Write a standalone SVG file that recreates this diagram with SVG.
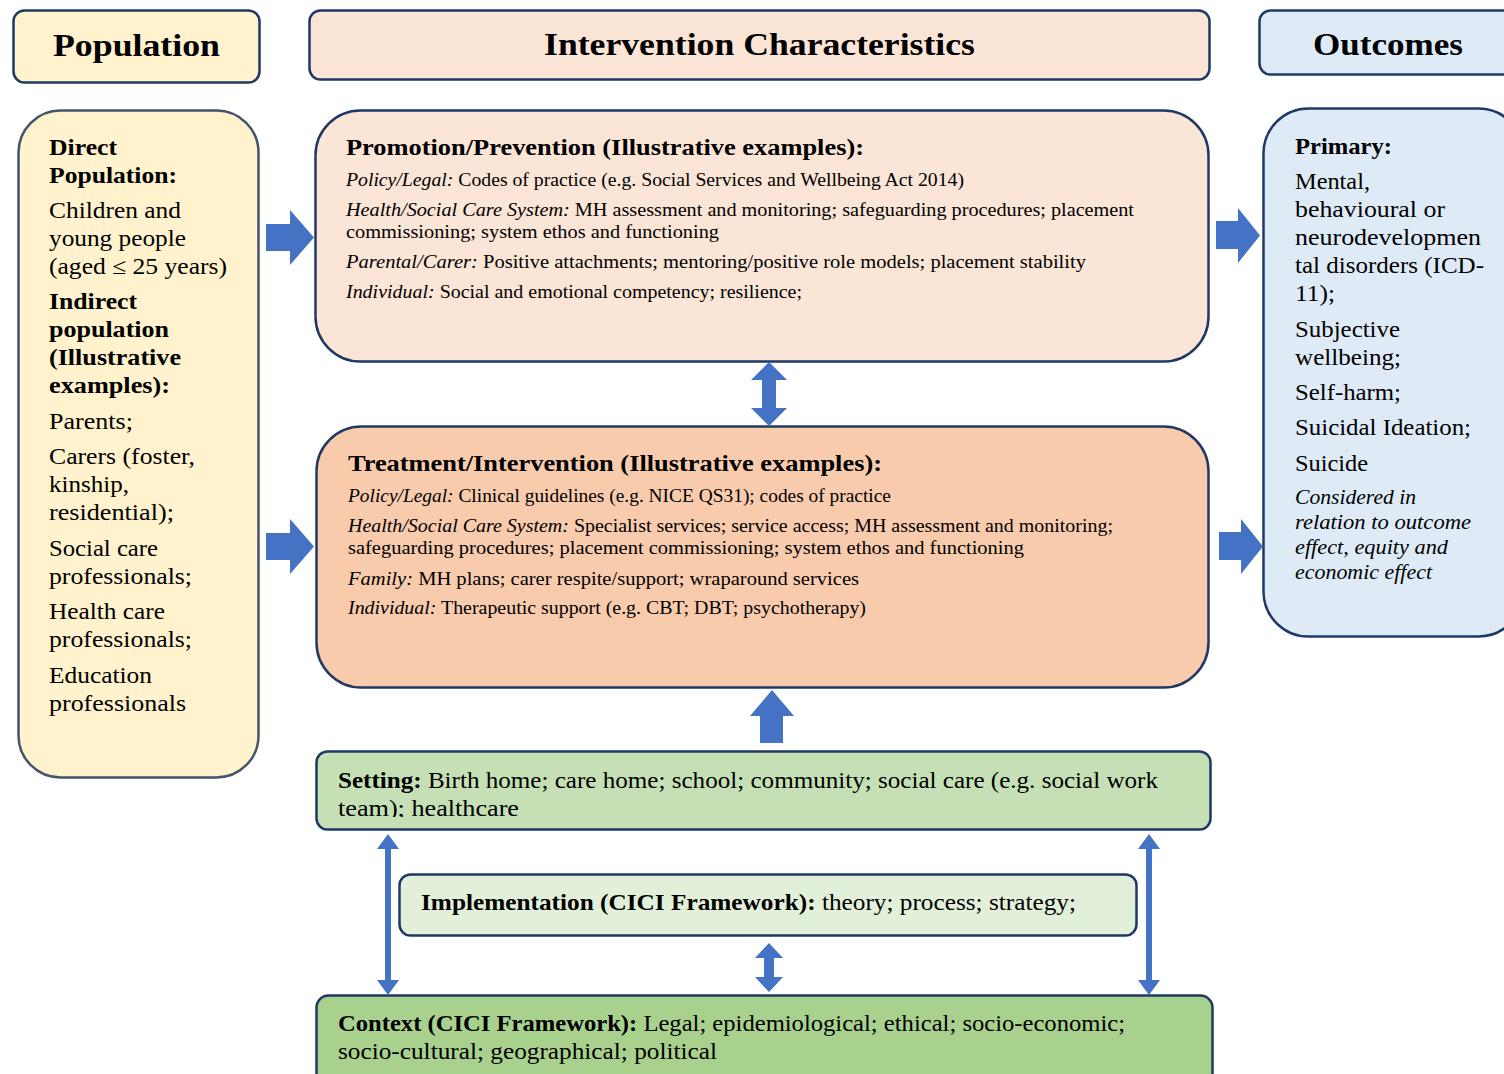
<svg xmlns="http://www.w3.org/2000/svg" width="1504" height="1074" viewBox="0 0 1504 1074">
<defs>
<style>
text{font-family:"Liberation Serif","DejaVu Serif",serif;fill:#000;}
.h{font-size:31px;font-weight:bold;text-anchor:middle;}
.p{font-size:22.5px;}
.b{font-weight:bold;}
.i{font-style:italic;}
.s{font-size:18.5px;}
.st{font-size:22.5px;}
.box{stroke:#1F3864;stroke-width:2.5;}
.arr{fill:#4472C4;}
</style>
<clipPath id="setclip"><rect x="316" y="751" width="896" height="66"/></clipPath>
</defs>

<g id="hdr-population">
<rect class="box" x="13.5" y="10.5" width="246" height="72" rx="11" fill="#FFF2CC"/>
<text class="h" x="136.5" y="56" textLength="167" lengthAdjust="spacingAndGlyphs">Population</text>
</g>
<g id="hdr-intervention">
<rect class="box" x="309.5" y="10.5" width="900" height="69" rx="11" fill="#FBE5D6"/>
<text class="h" x="759.5" y="55" textLength="431" lengthAdjust="spacingAndGlyphs">Intervention Characteristics</text>
</g>
<g id="hdr-outcomes">
<rect class="box" x="1259.5" y="10.5" width="260" height="64" rx="11" fill="#DEEBF7"/>
<text class="h" x="1388" y="55" textLength="150" lengthAdjust="spacingAndGlyphs">Outcomes</text>
</g>

<g id="population">
<rect x="18.5" y="110.5" width="240" height="667" rx="42" fill="#FFF2CC" stroke="#44546A" stroke-width="2.5"/>
<text class="p b" x="49" y="155" textLength="68" lengthAdjust="spacingAndGlyphs">Direct</text>
<text class="p b" x="49" y="183" textLength="128" lengthAdjust="spacingAndGlyphs">Population:</text>
<text class="p" x="49" y="218" textLength="132" lengthAdjust="spacingAndGlyphs">Children and</text>
<text class="p" x="49" y="246" textLength="137" lengthAdjust="spacingAndGlyphs">young people</text>
<text class="p" x="49" y="274" textLength="178" lengthAdjust="spacingAndGlyphs">(aged ≤ 25 years)</text>
<text class="p b" x="49" y="309" textLength="88" lengthAdjust="spacingAndGlyphs">Indirect</text>
<text class="p b" x="49" y="337" textLength="120" lengthAdjust="spacingAndGlyphs">population</text>
<text class="p b" x="49" y="365" textLength="132" lengthAdjust="spacingAndGlyphs">(Illustrative</text>
<text class="p b" x="49" y="393" textLength="121" lengthAdjust="spacingAndGlyphs">examples):</text>
<text class="p" x="49" y="429" textLength="84" lengthAdjust="spacingAndGlyphs">Parents;</text>
<text class="p" x="49" y="464" textLength="146" lengthAdjust="spacingAndGlyphs">Carers (foster,</text>
<text class="p" x="49" y="492" textLength="80" lengthAdjust="spacingAndGlyphs">kinship,</text>
<text class="p" x="49" y="520" textLength="125" lengthAdjust="spacingAndGlyphs">residential);</text>
<text class="p" x="49" y="556" textLength="109" lengthAdjust="spacingAndGlyphs">Social care</text>
<text class="p" x="49" y="584" textLength="143" lengthAdjust="spacingAndGlyphs">professionals;</text>
<text class="p" x="49" y="619" textLength="116" lengthAdjust="spacingAndGlyphs">Health care</text>
<text class="p" x="49" y="647" textLength="143" lengthAdjust="spacingAndGlyphs">professionals;</text>
<text class="p" x="49" y="683" textLength="103" lengthAdjust="spacingAndGlyphs">Education</text>
<text class="p" x="49" y="711" textLength="137" lengthAdjust="spacingAndGlyphs">professionals</text>
</g>

<g id="promotion">
<rect class="box" x="315.5" y="110.5" width="893" height="251" rx="45" fill="#FBE5D6"/>
<text class="b" style="font-size:22.5px" x="346" y="155" textLength="518" lengthAdjust="spacingAndGlyphs">Promotion/Prevention (Illustrative examples):</text>
<text class="s" x="346" y="186" textLength="618" lengthAdjust="spacingAndGlyphs"><tspan class="i">Policy/Legal:</tspan> Codes of practice (e.g. Social Services and Wellbeing Act 2014)</text>
<text class="s" x="346" y="216" textLength="788" lengthAdjust="spacingAndGlyphs"><tspan class="i">Health/Social Care System:</tspan> MH assessment and monitoring; safeguarding procedures; placement</text>
<text class="s" x="346" y="238" textLength="373" lengthAdjust="spacingAndGlyphs">commissioning; system ethos and functioning</text>
<text class="s" x="346" y="268" textLength="740" lengthAdjust="spacingAndGlyphs"><tspan class="i">Parental/Carer:</tspan> Positive attachments; mentoring/positive role models; placement stability</text>
<text class="s" x="346" y="298" textLength="456" lengthAdjust="spacingAndGlyphs"><tspan class="i">Individual:</tspan> Social and emotional competency; resilience;</text>
</g>

<g id="treatment">
<rect class="box" x="316.5" y="426.5" width="892" height="261" rx="45" fill="#F8CBAD"/>
<text class="b" style="font-size:22.5px" x="348" y="471" textLength="534" lengthAdjust="spacingAndGlyphs">Treatment/Intervention (Illustrative examples):</text>
<text class="s" x="348" y="502" textLength="543" lengthAdjust="spacingAndGlyphs"><tspan class="i">Policy/Legal:</tspan> Clinical guidelines (e.g. NICE QS31); codes of practice</text>
<text class="s" x="348" y="532" textLength="765" lengthAdjust="spacingAndGlyphs"><tspan class="i">Health/Social Care System:</tspan> Specialist services; service access; MH assessment and monitoring;</text>
<text class="s" x="348" y="554" textLength="676" lengthAdjust="spacingAndGlyphs">safeguarding procedures; placement commissioning; system ethos and functioning</text>
<text class="s" x="348" y="585" textLength="511" lengthAdjust="spacingAndGlyphs"><tspan class="i">Family:</tspan> MH plans; carer respite/support; wraparound services</text>
<text class="s" x="348" y="614" textLength="518" lengthAdjust="spacingAndGlyphs"><tspan class="i">Individual:</tspan> Therapeutic support (e.g. CBT; DBT; psychotherapy)</text>
</g>

<g id="outcomes">
<rect class="box" x="1263.5" y="108.5" width="260" height="528" rx="45" fill="#DEEBF7"/>
<text class="p b" x="1295" y="154" textLength="97" lengthAdjust="spacingAndGlyphs">Primary:</text>
<text class="p" x="1295" y="189" textLength="75" lengthAdjust="spacingAndGlyphs">Mental,</text>
<text class="p" x="1295" y="217" textLength="150" lengthAdjust="spacingAndGlyphs">behavioural or</text>
<text class="p" x="1295" y="245" textLength="186" lengthAdjust="spacingAndGlyphs">neurodevelopmen</text>
<text class="p" x="1295" y="273" textLength="189" lengthAdjust="spacingAndGlyphs">tal disorders (ICD-</text>
<text class="p" x="1295" y="301" textLength="40" lengthAdjust="spacingAndGlyphs">11);</text>
<text class="p" x="1295" y="337" textLength="105" lengthAdjust="spacingAndGlyphs">Subjective</text>
<text class="p" x="1295" y="365" textLength="106" lengthAdjust="spacingAndGlyphs">wellbeing;</text>
<text class="p" x="1295" y="400" textLength="106" lengthAdjust="spacingAndGlyphs">Self-harm;</text>
<text class="p" x="1295" y="435" textLength="176" lengthAdjust="spacingAndGlyphs">Suicidal Ideation;</text>
<text class="p" x="1295" y="471" textLength="73" lengthAdjust="spacingAndGlyphs">Suicide</text>
<text class="i" style="font-size:20px" x="1295" y="504" textLength="121" lengthAdjust="spacingAndGlyphs">Considered in</text>
<text class="i" style="font-size:20px" x="1295" y="529" textLength="176" lengthAdjust="spacingAndGlyphs">relation to outcome</text>
<text class="i" style="font-size:20px" x="1295" y="554" textLength="153" lengthAdjust="spacingAndGlyphs">effect, equity and</text>
<text class="i" style="font-size:20px" x="1295" y="579" textLength="137" lengthAdjust="spacingAndGlyphs">economic effect</text>
</g>

<g id="setting">
<rect class="box" x="316.5" y="751.5" width="894" height="78" rx="11" fill="#C5E0B4"/>
<text class="st" x="338" y="788" textLength="820" lengthAdjust="spacingAndGlyphs"><tspan class="b">Setting:</tspan> Birth home; care home; school; community; social care (e.g. social work</text>
<text class="st" x="338" y="816" textLength="181" lengthAdjust="spacingAndGlyphs" clip-path="url(#setclip)">team); healthcare</text>
</g>

<g id="implementation">
<rect class="box" x="399.5" y="874.5" width="737" height="61" rx="11" fill="#E2F0D9"/>
<text class="st" x="421" y="910" textLength="655" lengthAdjust="spacingAndGlyphs"><tspan class="b">Implementation (CICI Framework):</tspan> theory; process; strategy;</text>
</g>

<g id="context">
<rect class="box" x="316.5" y="995.5" width="896" height="90" rx="12" fill="#A9D18E"/>
<text class="st" x="338" y="1031" textLength="787" lengthAdjust="spacingAndGlyphs"><tspan class="b">Context (CICI Framework):</tspan> Legal; epidemiological; ethical; socio-economic;</text>
<text class="st" x="338" y="1059" textLength="379" lengthAdjust="spacingAndGlyphs">socio-cultural; geographical; political</text>
</g>

<g id="connectors">
<polygon class="arr" points="266,224 290,224 290,210 314,237.5 290,265 290,251 266,251"/>
<polygon class="arr" points="266,533 290,533 290,519 314,546.5 290,574 290,560 266,560"/>
<polygon class="arr" points="1216,221 1238,221 1238,208 1260,235.5 1238,263 1238,249 1216,249"/>
<polygon class="arr" points="1219,532 1241,532 1241,519 1263,546.5 1241,574 1241,560 1219,560"/>
<polygon class="arr" points="769,362 787,380 776,380 776,408 787,408 769,426 751,408 762,408 762,380 751,380"/>
<polygon class="arr" points="772,690 794,716 783,716 783,743 760,743 760,716 750,716"/>
<polygon class="arr" points="388,834 399,849 391,849 391,980 399,980 388,995 377,980 385,980 385,849 377,849"/>
<polygon class="arr" points="1149,834 1160,849 1152,849 1152,980 1160,980 1149,995 1138,980 1146,980 1146,849 1138,849"/>
<polygon class="arr" points="769,943 783,958 774,958 774,977 783,977 769,992 755,977 764,977 764,958 755,958"/>
</g>
</svg>
